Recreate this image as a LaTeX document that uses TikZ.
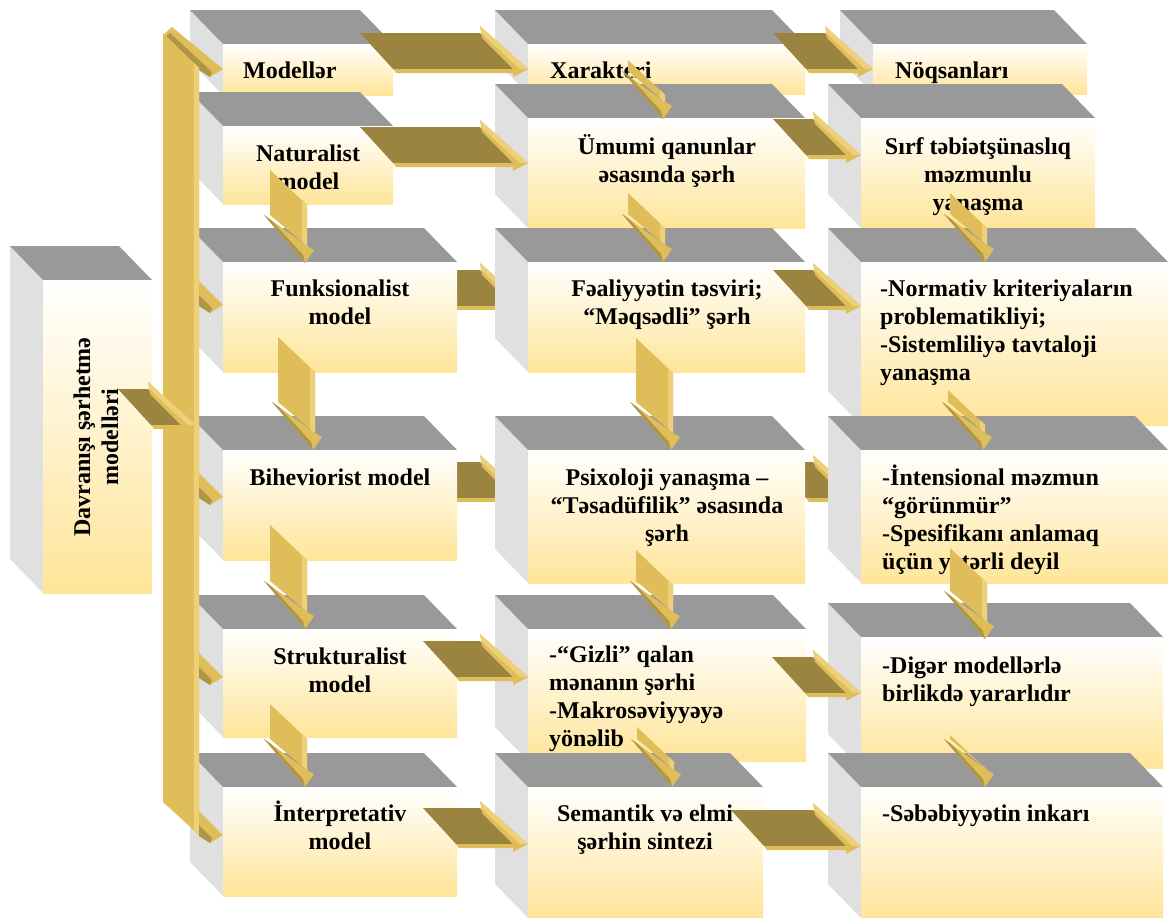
\documentclass[tikz,border=0pt]{standalone}
\usepackage{fontspec}
\setmainfont{Liberation Serif}
\usepackage{tikz}
\definecolor{topgray}{RGB}{153,153,153}
\definecolor{sidegray}{RGB}{224,224,224}
\definecolor{boxgold}{RGB}{255,229,153}
\definecolor{arrowdark}{RGB}{154,132,64}
\definecolor{arrowgold}{RGB}{223,190,90}
\definecolor{arrowlight}{RGB}{238,208,122}

\newcommand{\tdbox}[4]{%
	\fill[sidegray] (#1-33,#2-34) -- (#1,#2) -- (#1,#4) -- (#1-33,#4-34) -- cycle;
	\fill[topgray] (#1-33,#2-34) -- (#3-33,#2-34) -- (#3,#2) -- (#1,#2) -- cycle;
	\shade[top color=white, bottom color=boxgold] (#1,#2) rectangle (#3,#4);}
\newcommand{\harrow}[3]{%
	\fill[arrowdark] (#1,#3) -- (#2,#3) -- (#2+33,#3+36) -- (#1+33,#3+36) -- cycle;
	\fill[arrowgold] (#1+33,#3+36) -- (#2+33,#3+36) -- (#2+33,#3+40) -- (#1+36,#3+40) -- cycle;
	\fill[arrowgold] (#2,#3-7) -- (#2+48,#3+36) -- (#2+33,#3+44) -- (#2+33,#3+36) -- (#2+2,#3+5) -- cycle;
	\fill[arrowlight] (#2,#3-7) -- (#2+48,#3+36) -- (#2+40,#3+36) -- (#2+2,#3+1) -- cycle;}
\newcommand{\varrow}[3]{%
	\fill[arrowgold] (#1,#2) -- (#1+37,#2+35) -- (#1+37,#3+31) -- (#1,#3) -- cycle;
	\fill[arrowlight] (#1+32,#2+30) -- (#1+37,#2+35) -- (#1+37,#3+31) -- (#1+32,#3+27) -- cycle;
	\fill[arrowgold] (#1-6,#3) -- (#1+37,#3+31) -- (#1+44,#3+35) -- (#1+35,#3+48) -- cycle;
	\fill[arrowdark!70!arrowgold] (#1-6,#3) -- (#1+35,#3+48) -- (#1+33,#3+40) -- (#1+1,#3+5) -- cycle;}
\newcommand{\barhead}[1]{%
	\fill[arrowgold] (199,#1-24) -- (223,#1) -- (210,#1+8) -- (199,#1+1) -- cycle;
	\fill[arrowdark!70!arrowgold] (199,#1-10) -- (212,#1+3) -- (210,#1+8) -- (199,#1+1) -- cycle;}

\begin{document}
\begin{tikzpicture}[x=1pt,y=-1pt,
	boxtext/.style={font=\fontsize{24}{28}\selectfont\bfseries, align=center, inner sep=0pt},
	lefttext/.style={boxtext, align=left, anchor=base west}]
	\useasboundingbox (0,0) rectangle (1168,918);

	\harrow{420}{480}{270}
	\harrow{420}{480}{462}
	\harrow{773}{813}{462}

	\tdbox{43}{280}{152}{593}

	\tdbox{223}{44}{393}{95}
	\tdbox{528}{44}{805}{94}
	\tdbox{873}{44}{1087}{94}

	\tdbox{223}{126}{393}{204}
	\tdbox{528}{118}{805}{228}
	\tdbox{861}{118}{1095}{228}

	\tdbox{223}{262}{457}{372}
	\tdbox{528}{262}{805}{372}
	\tdbox{861}{262}{1168}{425}

	\tdbox{223}{450}{457}{560}
	\tdbox{528}{450}{805}{583}
	\tdbox{861}{450}{1168}{583}

	\tdbox{223}{629}{457}{737}
	\tdbox{528}{629}{806}{761}
	\tdbox{861}{637}{1163}{768}

	\tdbox{223}{787}{457}{896}
	\tdbox{528}{787}{763}{918}
	\tdbox{861}{787}{1163}{918}

	\node[boxtext, rotate=90] (title) at (96,437) {Davranışı şərhetmə\\modelləri};

	\node[lefttext] (models) at (243,78) {Modellər};
	\node[lefttext] (traits) at (550,78) {Xarakteri};
	\node[lefttext] (flaws) at (895,78) {Nöqsanları};

	\node[boxtext, anchor=base] (natural) at (308,189) {Naturalist\\model};
	\node[boxtext, anchor=base] (natural2) at (667,182) {Ümumi qanunlar\\əsasında şərh};
	\node[boxtext, anchor=base] (natural3) at (978,210) {Sırf təbiətşünaslıq\\məzmunlu\\yanaşma};

	\node[boxtext, anchor=base] (funct) at (340,324) {Funksionalist\\model};
	\node[boxtext, anchor=base] (funct2) at (667,324) {Fəaliyyətin təsviri;\\“Məqsədli” şərh};
	\node[lefttext] (funct3) at (880,380) {-Normativ kriteriyaların\\problematikliyi;\\-Sistemliliyə tavtaloji\\yanaşma};

	\node[boxtext, anchor=base] (behav) at (340,485) {Biheviorist model};
	\node[boxtext, anchor=base] (behav2) at (667,541) {Psixoloji yanaşma –\\“Təsadüfilik” əsasında\\şərh};
	\node[lefttext] (behav3) at (882,569) {-İntensional məzmun\\“görünmür”\\-Spesifikanı anlamaq\\üçün yetərli deyil};

	\node[boxtext, anchor=base] (struct) at (340,692) {Strukturalist\\model};
	\node[lefttext] (struct2) at (549,746) {-“Gizli” qalan\\mənanın şərhi\\-Makrosəviyyəyə\\yönəlib};
	\node[lefttext] (struct3) at (882,701) {-Digər modellərlə\\birlikdə yararlıdır};

	\node[boxtext, anchor=base] (interp) at (340,849) {İnterpretativ\\model};
	\node[boxtext, anchor=base] (interp2) at (645,849) {Semantik və elmi\\şərhin sintezi};
	\node[lefttext] (interp3) at (882,821) {-Səbəbiyyətin inkarı};

	\harrow{360}{480}{33}
	\harrow{773}{825}{33}
	\harrow{360}{480}{127}
	\harrow{773}{813}{119}
	\harrow{773}{813}{270}
	\harrow{423}{480}{641}
	\harrow{772}{813}{657}
	\harrow{423}{480}{808}
	\harrow{731}{813}{810}

	\fill[arrowgold] (172,27) -- (223,69) -- (210,77) -- (199,70) -- (163,35) -- cycle;
	\fill[arrowdark!70!arrowgold] (170,33) -- (212,72) -- (210,77) -- (199,70) -- (165,37) -- cycle;
	\fill[arrowgold] (163,33) -- (199,68) -- (199,835) -- (163,802) -- cycle;
	\fill[arrowlight] (194,63) -- (199,68) -- (199,835) -- (194,830) -- cycle;
	\barhead{305}
	\barhead{497}
	\barhead{677}
	\barhead{835}
	\harrow{118}{148}{389}

	\varrow{270}{170}{215}
	\varrow{278}{337}{402}
	\varrow{270}{525}{581}
	\varrow{270}{704}{739}
	\varrow{628}{60}{71}
	\varrow{628}{193}{214}
	\varrow{636}{338}{402}
	\varrow{636}{550}{581}
	\varrow{637}{727}{739}
	\varrow{950}{193}{214}
	\varrow{948}{390}{402}
	\varrow{950}{548}{591}
	\varrow{950}{735}{739}
\end{tikzpicture}
\end{document}
